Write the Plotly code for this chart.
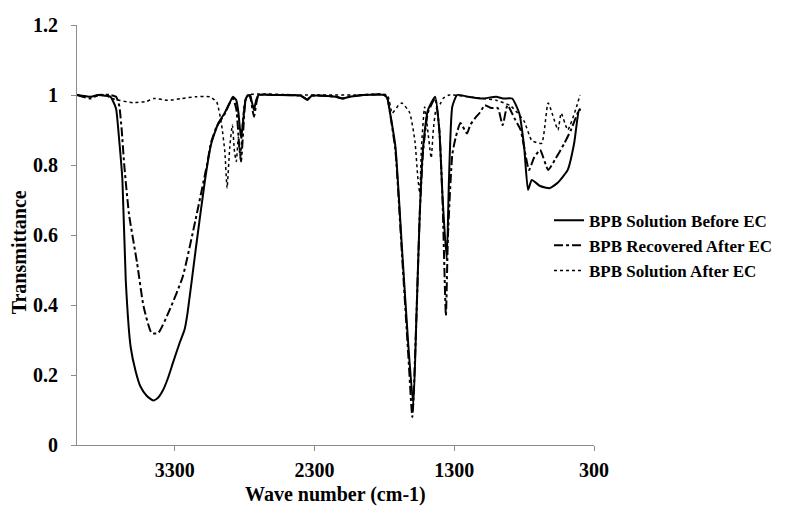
import plotly.graph_objects as go

# ---- Data ----
wn_before = [4000, 3900, 3850, 3800, 3760, 3745, 3720, 3700, 3675, 3651, 3616, 3580, 3546, 3500,
             3454, 3420, 3384, 3350, 3314, 3267, 3230, 3209, 3150, 3084, 3040, 2988, 2944, 2910,
             2884, 2860, 2845, 2826, 2810, 2791, 2770, 2745, 2733, 2718, 2700, 2600, 2400, 2350,
             2320, 2150, 2100, 2050, 1950, 1800, 1779, 1760, 1721, 1675, 1628, 1593, 1570, 1547,
             1523, 1488, 1437, 1407, 1384, 1354, 1338, 1314, 1279, 1200, 1100, 1000, 950, 886,
             835, 800, 772, 745, 686, 616, 558, 488, 442, 407, 396]
t_before = [1.0, 0.995, 1.0, 0.998, 0.995, 0.985, 0.96, 0.88, 0.757, 0.47, 0.28, 0.21, 0.167, 0.14,
            0.127, 0.135, 0.157, 0.19, 0.234, 0.29, 0.33, 0.377, 0.56, 0.757, 0.86, 0.92, 0.948, 0.975,
            0.995, 0.985, 0.95, 0.877, 0.93, 0.99, 1.0, 0.975, 0.957, 0.985, 1.0, 1.0, 0.998, 0.986,
            0.998, 0.995, 0.99, 0.995, 1.0, 1.0, 0.99, 0.95, 0.852, 0.567, 0.28, 0.114, 0.376, 0.66,
            0.85, 0.957, 0.995, 0.9, 0.71, 0.529, 0.757, 0.967, 1.0, 0.995, 0.99, 0.995, 0.99, 0.99,
            0.948, 0.852, 0.729, 0.757, 0.74, 0.734, 0.75, 0.786, 0.862, 0.957, 0.957]

wn_recovered = [4000, 3900, 3850, 3760, 3720, 3698, 3680, 3663, 3628, 3570, 3523, 3466, 3419, 3337,
                3244, 3152, 3070, 3040, 3000, 2944, 2910, 2884, 2860, 2838, 2826, 2810, 2791, 2760,
                2745, 2733, 2715, 2700, 2600, 2400, 2350, 2320, 2150, 2100, 2050, 1950, 1800, 1778,
                1760, 1721, 1675, 1628, 1600, 1570, 1547, 1523, 1488, 1437, 1407, 1384, 1360, 1345,
                1314, 1291, 1256, 1209, 1186, 1151, 1116, 1081, 1035, 989, 954, 919, 870, 825, 765,
                730, 686, 628, 581, 512, 465, 407, 396]
t_recovered = [1.0, 0.99, 1.0, 1.0, 0.995, 0.97, 0.9, 0.805, 0.66, 0.52, 0.395, 0.32, 0.32, 0.386,
               0.48, 0.643, 0.8, 0.865, 0.91, 0.945, 0.975, 0.99, 0.96, 0.848, 0.81, 0.9, 0.99, 1.0,
               0.96, 0.938, 0.98, 1.0, 1.0, 0.998, 0.988, 0.998, 0.995, 0.99, 0.995, 1.0, 1.0, 0.99,
               0.95, 0.84, 0.55, 0.25, 0.08, 0.376, 0.66, 0.84, 0.95, 0.99, 0.9, 0.7, 0.37, 0.6,
               0.83, 0.877, 0.92, 0.89, 0.914, 0.934, 0.95, 0.971, 0.963, 0.963, 0.914, 0.971, 0.934, 0.9, 0.786,
               0.82, 0.843, 0.786, 0.814, 0.862, 0.9, 0.957, 0.96]

wn_after = [4000, 3900, 3800, 3750, 3700, 3600, 3500, 3450, 3350, 3250, 3150, 3050, 3000, 2965,
            2942, 2926, 2907, 2888, 2873, 2860, 2845, 2830, 2815, 2800, 2779, 2400, 2000, 1780,
            1745, 1700, 1675, 1620, 1582, 1560, 1547, 1535, 1512, 1490, 1465, 1450, 1430, 1400,
            1380, 1338, 1200, 1100, 1000, 900, 850, 800, 745, 675, 628, 558, 535, 488, 430, 400]
t_after = [1.0, 0.995, 1.0, 0.99, 0.985, 0.978, 0.982, 0.99, 0.985, 0.99, 0.995, 0.995, 0.98, 0.914,
           0.838, 0.734, 0.85, 0.914, 0.838, 0.81, 0.88, 0.82, 0.92, 0.98, 1.0, 1.0, 1.0, 1.0,
           0.948, 0.97, 0.977, 0.95, 0.87, 0.76, 0.72, 0.85, 0.966, 0.9, 0.82, 0.9, 0.96, 0.975,
           0.99, 1.0, 0.995, 0.99, 0.985, 0.97, 0.95, 0.925, 0.87, 0.862, 0.977, 0.9, 0.948, 0.9, 0.96, 1.0]

series_names = ["BPB Solution Before EC", "BPB Recovered After EC", "BPB Solution After EC"]
x_ticks = [3300, 2300, 1300, 300]
y_ticks = [0, 0.2, 0.4, 0.6, 0.8, 1.0, 1.2]
y_tick_text = ["0", "0.2", "0.4", "0.6", "0.8", "1", "1.2"]
x_title = "Wave number (cm-1)"
y_title = "Transmittance"

FONT = "Liberation Serif"
AXIS_GREY = "#8c8c8c"

fig = go.Figure()
fig.add_trace(go.Scatter(x=wn_before, y=t_before, mode="lines", name=series_names[0],
                         legendgroup="a",
                         line=dict(color="black", width=2, dash="solid", shape="spline", smoothing=0.5)))
fig.add_trace(go.Scatter(x=wn_recovered, y=t_recovered, mode="lines", name=series_names[1],
                         legendgroup="b",
                         line=dict(color="black", width=2, dash="dashdot", shape="spline", smoothing=0.5)))
fig.add_trace(go.Scatter(x=wn_after, y=t_after, mode="lines", name=series_names[2],
                         legendgroup="c",
                         line=dict(color="black", width=1.5, dash="dot", shape="spline", smoothing=0.5)))

tick_font = dict(family=FONT, size=20, color="black", weight="bold")

fig.update_layout(
    width=782, height=500,
    margin=dict(l=69, r=184, t=17, b=63),
    paper_bgcolor="white", plot_bgcolor="white",
    font=dict(family=FONT, color="black"),
    showlegend=True,
    legend=dict(x=0.913, xanchor="left", y=0.577, yanchor="top",
                font=dict(family=FONT, size=17, color="black", weight="bold"),
                traceorder="grouped", tracegroupgap=0, bgcolor="rgba(0,0,0,0)"),
    xaxis=dict(range=[4000, 300], tickvals=x_ticks, ticktext=[str(v) for v in x_ticks],
               showgrid=False, zeroline=False, showline=True, linecolor=AXIS_GREY, linewidth=1,
               ticks="outside", ticklen=5, tickcolor=AXIS_GREY, ticklabelstandoff=2,
               tickfont=tick_font, automargin=False),
    yaxis=dict(range=[0, 1.2], tickvals=y_ticks, ticktext=y_tick_text,
               showgrid=False, zeroline=False, showline=True, linecolor=AXIS_GREY, linewidth=1,
               ticks="outside", ticklen=5, tickcolor=AXIS_GREY, ticklabelstandoff=9,
               tickfont=tick_font, automargin=False),
    annotations=[
        dict(text=x_title, xref="paper", yref="paper", x=0.5, y=-0.117,
             xanchor="center", yanchor="middle", showarrow=False,
             font=dict(family=FONT, size=20, color="black", weight="bold")),
        dict(text=y_title, xref="paper", yref="paper", x=-0.1115, y=0.4595, textangle=-90,
             xanchor="center", yanchor="middle", showarrow=False,
             font=dict(family=FONT, size=20, color="black", weight="bold")),
    ],
)

fig.write_html("out.html")
